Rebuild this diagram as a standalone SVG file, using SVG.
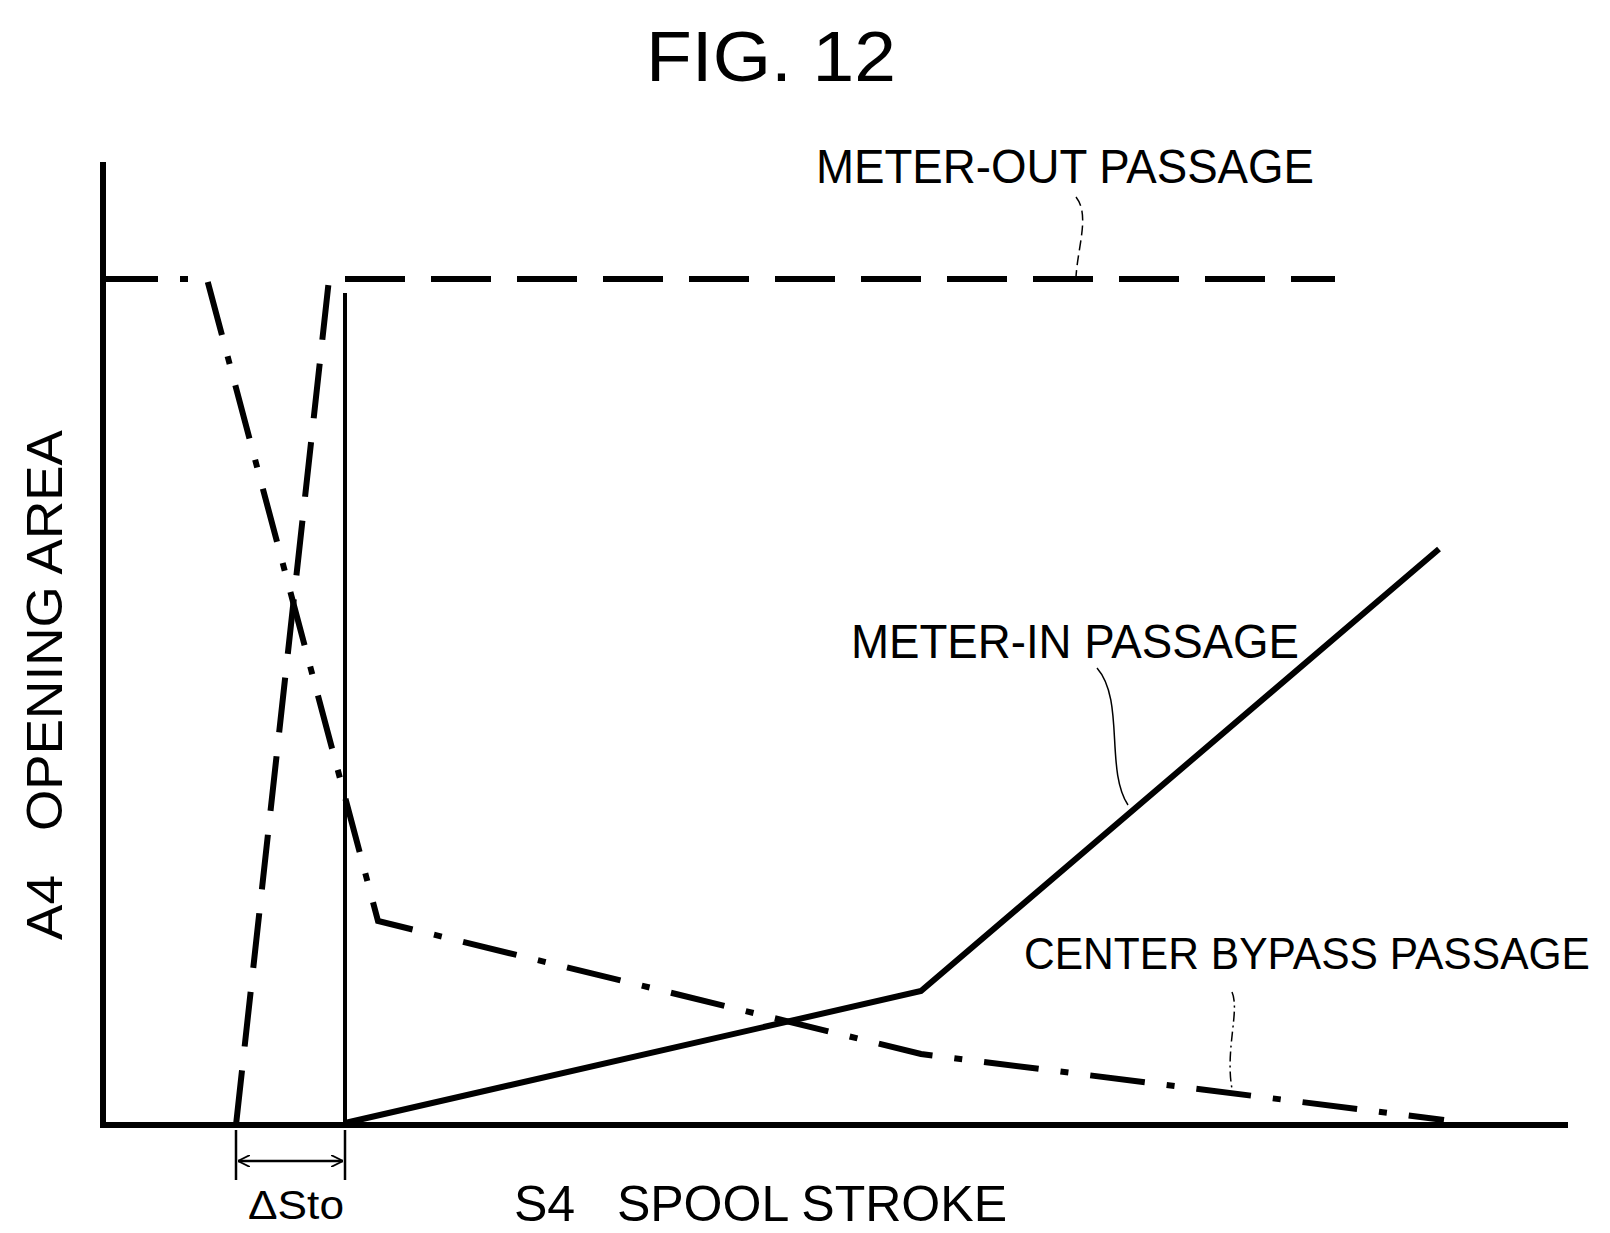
<svg xmlns="http://www.w3.org/2000/svg" width="1610" height="1233" viewBox="0 0 1610 1233">
<defs>
<style>
.t{font-family:"Liberation Sans",Arial,sans-serif;fill:#000}
.ax{stroke:#000;stroke-width:6;fill:none}
.k{stroke:#000;fill:none}
</style>
<marker id="ah" viewBox="0 0 10 10" refX="10" refY="5" markerWidth="12" markerHeight="12" markerUnits="userSpaceOnUse" orient="auto-start-reverse"><path d="M0,0 L10,5 L0,10" fill="none" stroke="#000" stroke-width="1.5"/></marker>
</defs>
<rect width="1610" height="1233" fill="#fff"/>
<text class="t" x="771" y="81" font-size="70" text-anchor="middle" textLength="250" lengthAdjust="spacingAndGlyphs">FIG. 12</text>
<g id="axes">
<path class="ax" d="M103,162 V1125 H1568"/>
</g>
<g id="connectors">
<path class="k" stroke-width="4" d="M345,293 V1125"/>
<path class="k" stroke-width="6" stroke-dasharray="60,26" d="M345,279 H1335"/>
<path class="k" stroke-width="6" stroke-dasharray="55,24" d="M236,1125 L329,279"/>
<path class="k" stroke-width="6" stroke-dasharray="55,22,8,22" d="M103,279 H207 L378,921 L921,1054 L1444,1120"/>
<path class="k" stroke-width="6" d="M345,1123 L921,991 L1439,549"/>
<path class="k" stroke-width="2.5" d="M236,1130 V1180 M345,1130 V1180"/>
<path class="k" stroke-width="2.5" d="M238,1161 H343" marker-start="url(#ah)" marker-end="url(#ah)"/>
<path class="k" stroke-width="1.5" stroke-dasharray="10,5" d="M1076,197 C1090,215 1078,245 1076,277"/>
<path class="k" stroke-width="1.5" d="M1097,668 C1125,700 1105,770 1128,805"/>
<path class="k" stroke-width="1.5" stroke-dasharray="10,4,2,4" d="M1232,992 C1240,1010 1225,1050 1232,1089"/>
</g>
<g id="labels">
<text class="t" x="816" y="183" font-size="48" textLength="498" lengthAdjust="spacingAndGlyphs">METER-OUT PASSAGE</text>
<text class="t" x="851" y="658" font-size="48" textLength="448" lengthAdjust="spacingAndGlyphs">METER-IN PASSAGE</text>
<text class="t" x="1024" y="969" font-size="45" textLength="566" lengthAdjust="spacingAndGlyphs">CENTER BYPASS PASSAGE</text>
<text class="t" x="514" y="1221" font-size="50" textLength="493" lengthAdjust="spacingAndGlyphs" xml:space="preserve">S4   SPOOL STROKE</text>
<text class="t" x="248" y="1219" font-size="40" textLength="96" lengthAdjust="spacingAndGlyphs">ΔSto</text>
<text class="t" transform="translate(62,940) rotate(-90)" font-size="50" textLength="510" lengthAdjust="spacingAndGlyphs" xml:space="preserve">A4   OPENING AREA</text>
</g>
</svg>
